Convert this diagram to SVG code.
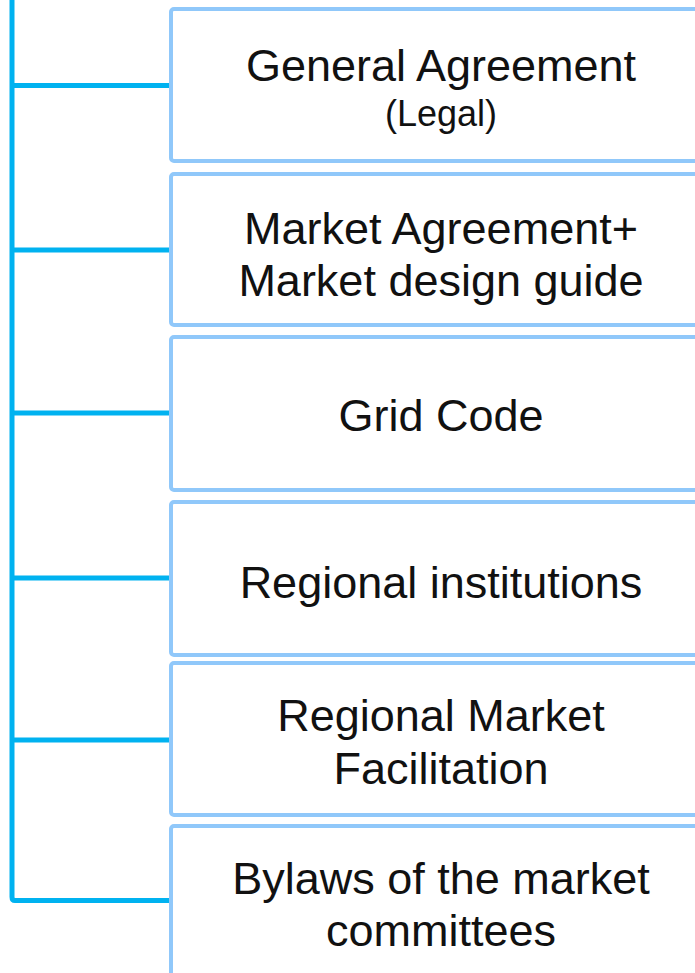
<svg xmlns="http://www.w3.org/2000/svg" width="695" height="973" viewBox="0 0 695 973">
<style>
.box{fill:#fff;stroke:#90C8FA;stroke-width:4}
.t{font-family:"Liberation Sans",Arial,sans-serif;font-size:45px;fill:#111;text-anchor:middle}
.s{font-size:36px}
.c{fill:none;stroke:#00B2F0;stroke-width:5}
</style>
<rect width="695" height="973" fill="#fff"/>
<g id="connectors">
<path class="c" d="M12 0 V897 Q12 900.5 15 900.5 H171"/>
<path class="c" d="M12 85.5 H171 M12 250 H171 M12 413 H171 M12 578 H171 M12 740 H171"/>
</g>
<g id="n1"><rect class="box" x="171" y="9" width="540" height="152" rx="3"/>
<text class="t" x="441" y="81">General Agreement</text><text class="t s" x="441" y="126">(Legal)</text></g>
<g id="n2"><rect class="box" x="171" y="174" width="540" height="151" rx="3"/>
<text class="t" x="441" y="244">Market Agreement+</text><text class="t" x="441" y="296">Market design guide</text></g>
<g id="n3"><rect class="box" x="171" y="337" width="540" height="153" rx="3"/>
<text class="t" x="441" y="431">Grid Code</text></g>
<g id="n4"><rect class="box" x="171" y="502" width="540" height="153" rx="3"/>
<text class="t" x="441" y="598">Regional institutions</text></g>
<g id="n5"><rect class="box" x="171" y="663" width="540" height="152" rx="3"/>
<text class="t" x="441" y="731">Regional Market</text><text class="t" x="441" y="784">Facilitation</text></g>
<g id="n6"><rect class="box" x="171" y="826" width="540" height="160" rx="3"/>
<text class="t" x="441" y="894">Bylaws of the market</text><text class="t" x="441" y="946">committees</text></g>
</svg>
